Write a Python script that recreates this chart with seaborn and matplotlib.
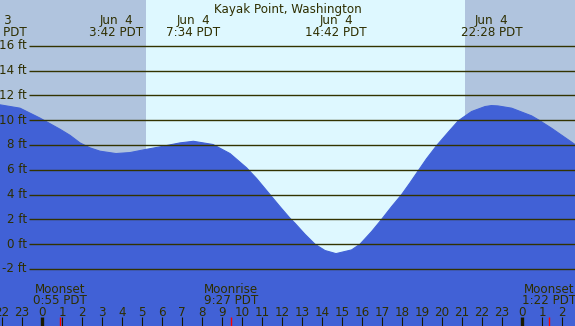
import numpy as np
import pandas as pd
import seaborn as sns
import matplotlib.pyplot as plt

# 조위 곡선 (Jun 4 00:00 PDT 기준 시간, ft) - 그림에서 읽은 값
tide_hours = [-2.1, -1.1, -0.1, 0.4, 0.9, 1.4, 1.9, 2.4, 2.9, 3.7, 4.4, 5.15,
              5.9, 6.9, 7.57, 8.55, 9.4, 10.23, 10.73, 11.4, 11.9, 12.4, 12.65,
              13.15, 13.65, 14.15, 14.7, 15.48, 15.9, 16.48, 16.98, 17.48, 17.98,
              18.4, 18.82, 19.23, 19.73, 20.32, 20.82, 21.48, 22.15, 22.47, 22.8,
              23.48, 24.48, 24.85, 25.48, 26.65]
tide_feet = [11.24, 10.97, 10.17, 9.72, 9.27, 8.78, 8.17, 7.77, 7.5, 7.31, 7.39, 7.63,
             7.85, 8.17, 8.3, 8.04, 7.31, 6.16, 5.3, 4.0, 3.03, 2.09, 1.69,
             0.8, 0.0, -0.51, -0.76, -0.46, 0.0, 1.02, 2.0, 3.03, 4.0,
             4.95, 5.94, 6.9, 7.95, 9.05, 9.96, 10.7, 11.1, 11.18, 11.15,
             10.97, 10.35, 10.0, 9.35, 8.04]

# 만조/간조 표시
event_hours = [-2.3, 3.7, 7.57, 14.7, 22.47]
event_days = ['Jun  3', 'Jun  4', 'Jun  4', 'Jun  4', 'Jun  4']
event_times = ['21:42 PDT', '3:42 PDT', '7:34 PDT', '14:42 PDT', '22:28 PDT']

# 달 뜨고 지는 시각
moon_hours = [0.917, 9.45, 25.367]
moon_names = ['Moonset', 'Moonrise', 'Moonset']
moon_times = ['0:55 PDT', '9:27 PDT', '1:22 PDT']

sunrise, sunset = 5.2, 21.15
ft_levels = [-2, 0, 2, 4, 6, 8, 10, 12, 14, 16]
hour_ticks = list(range(-2, 27))

# 픽셀 -> 데이터 좌표 변환 (그림 575x326 기준)
def px_x(x):
    return (x - 42) / 20.0

def px_y(y):
    return (244.2 - y) / 12.4

txt_color = '#2e2e00'
blue = '#4161D6'

sns.set_style('white')
plt.rcParams['font.family'] = ['DejaVu Sans']
fig = plt.figure(figsize=(5.75, 3.26), dpi=100)
ax = fig.add_axes([0, 0, 1, 1])
ax.set_xlim(px_x(0), px_x(575))
ax.set_ylim(px_y(326), px_y(0))
ax.axis('off')

# 밤/낮 배경
ax.axvspan(-5, sunrise, color='#B0C4DE', lw=0, zorder=0)
ax.axvspan(sunrise, sunset, color='#DEF8FF', lw=0, zorder=0)
ax.axvspan(sunset, 30, color='#B0C4DE', lw=0, zorder=0)

# 조위 곡선
df = pd.DataFrame({'hour': tide_hours, 'feet': tide_feet})
ax.fill_between(df['hour'], df['feet'], -10, color=blue, lw=0, zorder=1)
sns.lineplot(data=df, x='hour', y='feet', color=blue, lw=0.8, ax=ax, zorder=1)

# 수평선 + ft 라벨
ax.hlines(ft_levels, px_x(29), 30, color='#333300', lw=1.0, zorder=2)
for lv in ft_levels:
    ax.text(px_x(27), lv - 3.5 / 12.4, f'{lv} ft', ha='right', va='baseline',
            fontsize=8.6, color=txt_color, zorder=3)

fs = 8.6
ax.text(px_x(287.5), px_y(13), 'Kayak Point, Washington', ha='center', va='baseline',
        fontsize=fs, color=txt_color)
for h, d, t in zip(event_hours, event_days, event_times):
    ax.text(h, px_y(24), d, ha='center', va='baseline', fontsize=fs, color=txt_color)
    ax.text(h, px_y(36), t, ha='center', va='baseline', fontsize=fs, color=txt_color)

for h, n, t in zip(moon_hours, moon_names, moon_times):
    ax.text(h, px_y(293), n, ha='center', va='baseline', fontsize=fs, color=txt_color)
    ax.text(h, px_y(304), t, ha='center', va='baseline', fontsize=fs, color=txt_color)
    ax.vlines(h, px_y(326), px_y(317), color='red', lw=1.0, zorder=3)

# 시간 눈금
for h in hour_ticks:
    ax.text(h, px_y(316), str(h % 24), ha='center', va='baseline', fontsize=fs,
            color=txt_color)
    lw = 2.4 if h % 24 == 0 else 0.8
    ax.vlines(h, px_y(326), px_y(317), color='#1a1a00', lw=lw, zorder=3)

fig.savefig('out.png', dpi=100)
